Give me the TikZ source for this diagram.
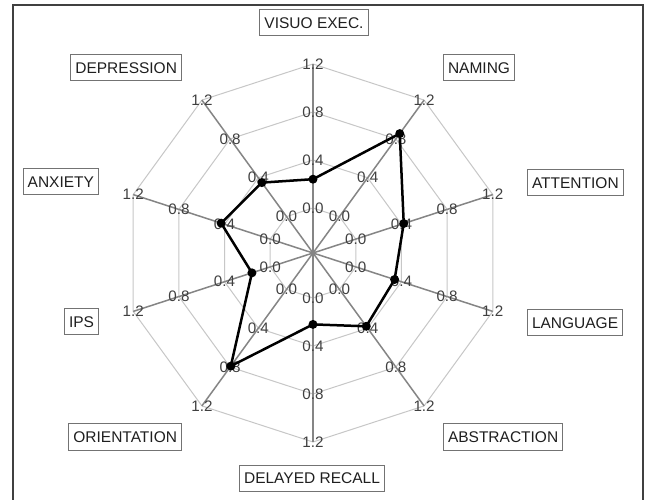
\documentclass[tikz,border=0pt]{standalone}
\usepackage{fontspec}
\setmainfont{Liberation Sans}
\begin{document}
\begin{tikzpicture}[x=1pt,y=1pt,
  grid/.style={draw=black!22, line width=1pt},
  spoke/.style={draw=black!48, line width=1.5pt},
  ticklab/.style={text=black!75, font=\fontsize{15.2}{16}\selectfont, inner sep=0pt},
  axlabel/.style={draw=black!55, line width=1pt, font=\fontsize{15.5}{16}\selectfont,
    text height=11pt, text depth=0pt, inner xsep=4.5pt, inner ysep=7.5pt, text=black!88},
  datapt/.style={circle, fill=black, inner sep=0pt, minimum size=9pt},
  dataline/.style={draw=black, line width=2.5pt, line join=round},
  frameline/.style={draw=black!75, line width=2pt}]
\useasboundingbox (-313,-247) rectangle (335,253);
\fill[white] (-313,-247) rectangle (335,253);
% frame
\coordinate (f1) at (-299.5,-260);
\coordinate (f2) at (-299.5,247.5);
\coordinate (f3) at (330,247.5);
\coordinate (f4) at (330,-260);
\draw[frameline] (f1) -- (f2) -- (f3) -- (f4);
\coordinate (O) at (0,0);
% grid rings
\foreach \v in {0,0.4,0.8,1.2}{
  \pgfmathsetmacro{\r}{45+120*\v}
  \draw[grid] (90:\r) \foreach \a in {54,18,...,-234}{ -- (\a:\r)} -- cycle;
}
% spokes
\foreach \a [count=\k from 0] in {90,54,...,-234}{
  \coordinate (e\k) at (\a:189);
  \draw[spoke] (O) -- (e\k);
}
% tick labels
\foreach \a [count=\k from 0] in {90,54,...,-234}{
  \foreach \v/\t [count=\j from 0] in {0/0.0,0.4/0.4,0.8/0.8,1.2/1.2}{
    \pgfmathsetmacro{\r}{45+120*\v}
    \node[ticklab] (t\k-\j) at (\a:\r) {\t};
  }
}
% data
\foreach \a/\v [count=\k from 0] in {90/0.24,54/0.855,18/0.42,-18/0.34,-54/0.38,-90/0.22,-126/0.79,-162/0.16,-198/0.43,-234/0.35}{
  \pgfmathsetmacro{\r}{45+120*\v}
  \coordinate (p\k) at (\a:\r);
}
\draw[dataline] (p0) -- (p1) -- (p2) -- (p3) -- (p4) -- (p5) -- (p6) -- (p7) -- (p8) -- (p9) -- cycle;
\foreach \k in {0,...,9}{ \node[datapt] (d\k) at (p\k) {}; }
% axis labels
\node[axlabel] (lvis) at (1,230) {VISUO EXEC.};
\node[axlabel, anchor=west] (lnam) at (130,185) {NAMING};
\node[axlabel, anchor=east] (ldep) at (-131,185) {DEPRESSION};
\node[axlabel, anchor=west] (latt) at (214,70) {ATTENTION};
\node[axlabel, anchor=east] (lanx) at (-214,71) {ANXIETY};
\node[axlabel, anchor=west] (llan) at (214,-70) {LANGUAGE};
\node[axlabel, anchor=east] (lips) at (-214,-69) {IPS};
\node[axlabel, anchor=east] (lori) at (-131,-184) {ORIENTATION};
\node[axlabel, anchor=west] (labs) at (130,-184) {ABSTRACTION};
\node[axlabel] (ldel) at (-1,-225) {DELAYED RECALL};
\end{tikzpicture}
\end{document}
